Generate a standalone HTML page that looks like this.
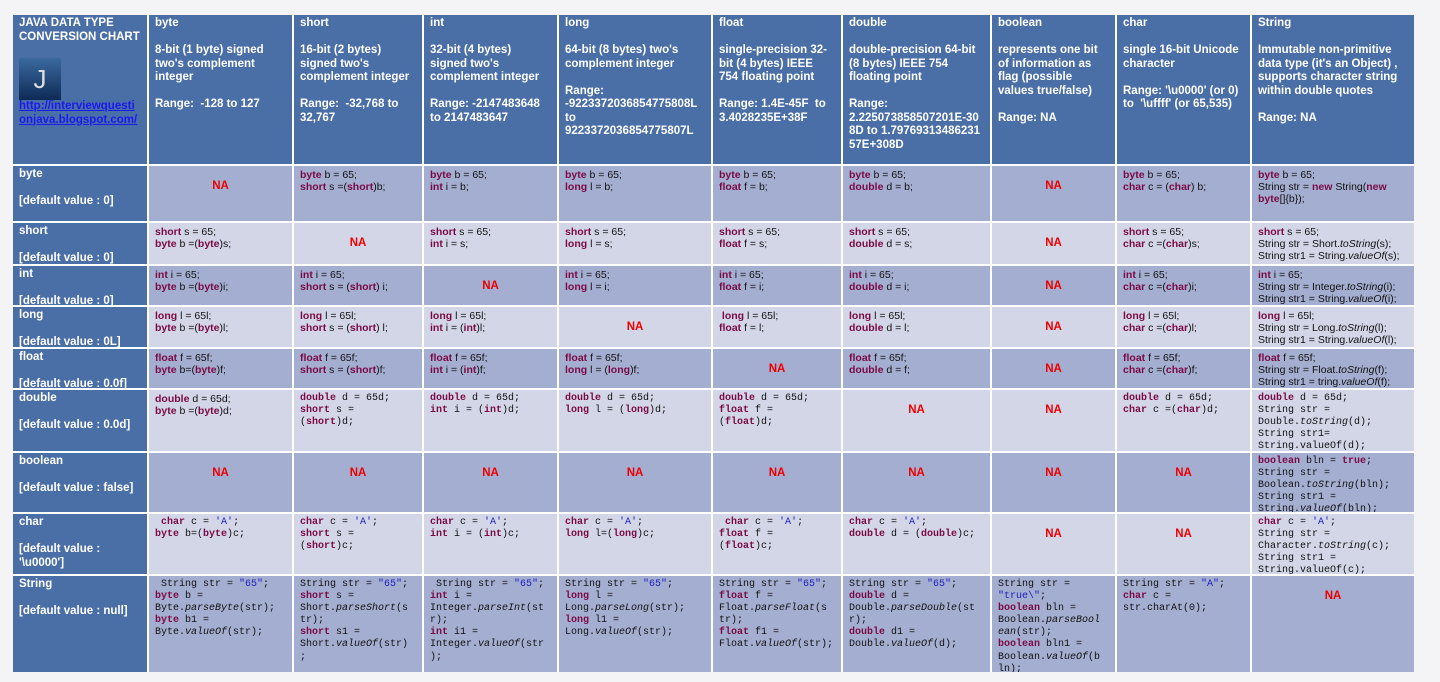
<!DOCTYPE html><html><head><meta charset="utf-8"><style>
body{margin:0;width:1440px;height:682px;background:#f4f4f6;position:relative;overflow:hidden;font-family:"Liberation Sans",Arial,sans-serif}
.c{position:absolute;box-sizing:border-box;padding:3px 6px;font-size:10.5px;line-height:12px;color:#111;overflow:hidden}
.h{background:#4a6ea6;color:#fff;font-weight:bold;font-size:11.5px;line-height:13.5px;padding-top:2px}
.d{background:#a4aed0}.l{background:#d2d6e7}
.k{color:#7a0a45;font-weight:bold}
.na{color:#e00;font-weight:bold;font-size:11.5px;text-align:center;padding-top:14px}
.m{font-family:"Liberation Mono","Courier New",monospace;font-size:10px;line-height:12.1px}
.s{color:#2020c0}
a{color:#1a1aee;text-decoration:underline;word-break:break-all;display:block}
</style></head><body>
<div style="position:absolute;left:13px;top:15px;width:1401px;height:657px;background:#fff"></div>
<div class="c h" style="left:13px;top:15px;width:134px;height:149px">JAVA DATA TYPE CONVERSION CHART<div style="width:42px;height:42px;margin:14px 0 0 0;background:linear-gradient(#3b6aa0,#0e2a55);color:#ddd;font-size:26px;font-weight:normal;text-align:center;line-height:42px">J</div><a>http://interviewquestionjava.blogspot.com/</a></div>
<div class="c h" style="left:149px;top:15px;width:143px;height:149px">byte<br><br>8-bit (1 byte) signed two's complement integer<br><br>Range:&nbsp; -128 to 127</div>
<div class="c h" style="left:294px;top:15px;width:128px;height:149px">short<br><br>16-bit (2 bytes) signed two's complement integer<br><br>Range:&nbsp; -32,768 to 32,767</div>
<div class="c h" style="left:424px;top:15px;width:133px;height:149px">int<br><br>32-bit (4 bytes) signed two's complement integer<br><br>Range: -2147483648 to 2147483647</div>
<div class="c h" style="left:559px;top:15px;width:152px;height:149px">long<br><br>64-bit (8 bytes) two's complement integer<br><br>Range:<br>-9223372036854775808L to 9223372036854775807L</div>
<div class="c h" style="left:713px;top:15px;width:128px;height:149px">float<br><br>single-precision 32-bit (4 bytes) IEEE 754 floating point<br><br>Range: 1.4E-45F&nbsp; to 3.4028235E+38F</div>
<div class="c h" style="left:843px;top:15px;width:147px;height:149px">double<br><br>double-precision 64-bit (8 bytes) IEEE 754 floating point<br><br>Range:<br><span style="word-break:break-all">2.225073858507201E-308D to 1.7976931348623157E+308D</span></div>
<div class="c h" style="left:992px;top:15px;width:123px;height:149px">boolean<br><br>represents one bit of information as flag (possible values true/false)<br><br>Range: NA</div>
<div class="c h" style="left:1117px;top:15px;width:133px;height:149px">char<br><br>single 16-bit Unicode character<br><br>Range: '\u0000' (or 0) to&nbsp; '\uffff' (or 65,535)</div>
<div class="c h" style="left:1252px;top:15px;width:162px;height:149px">String<br><br>Immutable non-primitive data type (it's an Object) , supports character string within double quotes<br><br>Range: NA</div>

<div class="c h" style="left:13px;top:166px;width:134px;height:55px">byte<br><br>[default value : 0]</div>
<div class="c h" style="left:13px;top:223px;width:134px;height:41px">short<br><br>[default value : 0]</div>
<div class="c h" style="left:13px;top:266px;width:134px;height:39px">int<br><br>[default value : 0]</div>
<div class="c h" style="left:13px;top:307px;width:134px;height:40px">long<br><br>[default value : 0L]</div>
<div class="c h" style="left:13px;top:349px;width:134px;height:39px">float<br><br>[default value : 0.0f]</div>
<div class="c h" style="left:13px;top:390px;width:134px;height:61px">double<br><br>[default value : 0.0d]</div>
<div class="c h" style="left:13px;top:453px;width:134px;height:59px">boolean<br><br>[default value : false]</div>
<div class="c h" style="left:13px;top:514px;width:134px;height:60px">char<br><br>[default value : '\u0000']</div>
<div class="c h" style="left:13px;top:576px;width:134px;height:96px">String<br><br>[default value : null]</div>

<div class="c d na" style="left:149px;top:166px;width:143px;height:55px">NA</div>
<div class="c d" style="left:294px;top:166px;width:128px;height:55px"><span class="k">byte</span> b = 65;<br><span class="k">short</span> s =(<span class="k">short</span>)b;</div>
<div class="c d" style="left:424px;top:166px;width:133px;height:55px"><span class="k">byte</span> b = 65;<br><span class="k">int</span> i = b;</div>
<div class="c d" style="left:559px;top:166px;width:152px;height:55px"><span class="k">byte</span> b = 65;<br><span class="k">long</span> l = b;</div>
<div class="c d" style="left:713px;top:166px;width:128px;height:55px"><span class="k">byte</span> b = 65;<br><span class="k">float</span> f = b;</div>
<div class="c d" style="left:843px;top:166px;width:147px;height:55px"><span class="k">byte</span> b = 65;<br><span class="k">double</span> d = b;</div>
<div class="c d na" style="left:992px;top:166px;width:123px;height:55px">NA</div>
<div class="c d" style="left:1117px;top:166px;width:133px;height:55px"><span class="k">byte</span> b = 65;<br><span class="k">char</span> c = (<span class="k">char</span>) b;</div>
<div class="c d" style="left:1252px;top:166px;width:162px;height:55px"><span class="k">byte</span> b = 65;<br>String str = <span class="k">new</span> String(<span class="k">new byte</span>[]{b});</div>

<div class="c l" style="left:149px;top:223px;width:143px;height:41px"><span class="k">short</span> s = 65;<br><span class="k">byte</span> b =(<span class="k">byte</span>)s;</div>
<div class="c l na" style="left:294px;top:223px;width:128px;height:41px">NA</div>
<div class="c l" style="left:424px;top:223px;width:133px;height:41px"><span class="k">short</span> s = 65;<br><span class="k">int</span> i = s;</div>
<div class="c l" style="left:559px;top:223px;width:152px;height:41px"><span class="k">short</span> s = 65;<br><span class="k">long</span> l = s;</div>
<div class="c l" style="left:713px;top:223px;width:128px;height:41px"><span class="k">short</span> s = 65;<br><span class="k">float</span> f = s;</div>
<div class="c l" style="left:843px;top:223px;width:147px;height:41px"><span class="k">short</span> s = 65;<br><span class="k">double</span> d = s;</div>
<div class="c l na" style="left:992px;top:223px;width:123px;height:41px">NA</div>
<div class="c l" style="left:1117px;top:223px;width:133px;height:41px"><span class="k">short</span> s = 65;<br><span class="k">char</span> c =(<span class="k">char</span>)s;</div>
<div class="c l" style="left:1252px;top:223px;width:162px;height:41px"><span class="k">short</span> s = 65;<br>String str = Short.<i>toString</i>(s);<br>String str1 = String.<i>valueOf</i>(s);</div>

<div class="c d" style="left:149px;top:266px;width:143px;height:39px"><span class="k">int</span> i = 65;<br><span class="k">byte</span> b =(<span class="k">byte</span>)i;</div>
<div class="c d" style="left:294px;top:266px;width:128px;height:39px"><span class="k">int</span> i = 65;<br><span class="k">short</span> s = (<span class="k">short</span>) i;</div>
<div class="c d na" style="left:424px;top:266px;width:133px;height:39px">NA</div>
<div class="c d" style="left:559px;top:266px;width:152px;height:39px"><span class="k">int</span> i = 65;<br><span class="k">long</span> l = i;</div>
<div class="c d" style="left:713px;top:266px;width:128px;height:39px"><span class="k">int</span> i = 65;<br><span class="k">float</span> f = i;</div>
<div class="c d" style="left:843px;top:266px;width:147px;height:39px"><span class="k">int</span> i = 65;<br><span class="k">double</span> d = i;</div>
<div class="c d na" style="left:992px;top:266px;width:123px;height:39px">NA</div>
<div class="c d" style="left:1117px;top:266px;width:133px;height:39px"><span class="k">int</span> i = 65;<br><span class="k">char</span> c =(<span class="k">char</span>)i;</div>
<div class="c d" style="left:1252px;top:266px;width:162px;height:39px"><span class="k">int</span> i = 65;<br>String str = Integer.<i>toString</i>(i);<br>String str1 = String.<i>valueOf</i>(i);</div>

<div class="c l" style="left:149px;top:307px;width:143px;height:40px"><span class="k">long</span> l = 65l;<br><span class="k">byte</span> b =(<span class="k">byte</span>)l;</div>
<div class="c l" style="left:294px;top:307px;width:128px;height:40px"><span class="k">long</span> l = 65l;<br><span class="k">short</span> s = (<span class="k">short</span>) l;</div>
<div class="c l" style="left:424px;top:307px;width:133px;height:40px"><span class="k">long</span> l = 65l;<br><span class="k">int</span> i = (<span class="k">int</span>)l;</div>
<div class="c l na" style="left:559px;top:307px;width:152px;height:40px">NA</div>
<div class="c l" style="left:713px;top:307px;width:128px;height:40px">&nbsp;<span class="k">long</span> l = 65l;<br><span class="k">float</span> f = l;</div>
<div class="c l" style="left:843px;top:307px;width:147px;height:40px"><span class="k">long</span> l = 65l;<br><span class="k">double</span> d = l;</div>
<div class="c l na" style="left:992px;top:307px;width:123px;height:40px">NA</div>
<div class="c l" style="left:1117px;top:307px;width:133px;height:40px"><span class="k">long</span> l = 65l;<br><span class="k">char</span> c =(<span class="k">char</span>)l;</div>
<div class="c l" style="left:1252px;top:307px;width:162px;height:40px"><span class="k">long</span> l = 65l;<br>String str = Long.<i>toString</i>(l);<br>String str1 = String.<i>valueOf</i>(l);</div>

<div class="c d" style="left:149px;top:349px;width:143px;height:39px"><span class="k">float</span> f = 65f;<br><span class="k">byte</span> b=(<span class="k">byte</span>)f;</div>
<div class="c d" style="left:294px;top:349px;width:128px;height:39px"><span class="k">float</span> f = 65f;<br><span class="k">short</span> s = (<span class="k">short</span>)f;</div>
<div class="c d" style="left:424px;top:349px;width:133px;height:39px"><span class="k">float</span> f = 65f;<br><span class="k">int</span> i = (<span class="k">int</span>)f;</div>
<div class="c d" style="left:559px;top:349px;width:152px;height:39px"><span class="k">float</span> f = 65f;<br><span class="k">long</span> l = (<span class="k">long</span>)f;</div>
<div class="c d na" style="left:713px;top:349px;width:128px;height:39px">NA</div>
<div class="c d" style="left:843px;top:349px;width:147px;height:39px"><span class="k">float</span> f = 65f;<br><span class="k">double</span> d = f;</div>
<div class="c d na" style="left:992px;top:349px;width:123px;height:39px">NA</div>
<div class="c d" style="left:1117px;top:349px;width:133px;height:39px"><span class="k">float</span> f = 65f;<br><span class="k">char</span> c =(<span class="k">char</span>)f;</div>
<div class="c d" style="left:1252px;top:349px;width:162px;height:39px"><span class="k">float</span> f = 65f;<br>String str = Float.<i>toString</i>(f);<br>String str1 = tring.<i>valueOf</i>(f);</div>

<div class="c l" style="left:149px;top:390px;width:143px;height:61px"><span class="k">double</span> d = 65d;<br><span class="k">byte</span> b =(<span class="k">byte</span>)d;</div>
<div class="c l m" style="left:294px;top:390px;width:128px;height:61px"><span class="k">double</span> d = 65d;<br><span class="k">short</span> s =<br>(<span class="k">short</span>)d;</div>
<div class="c l m" style="left:424px;top:390px;width:133px;height:61px"><span class="k">double</span> d = 65d;<br><span class="k">int</span> i = (<span class="k">int</span>)d;</div>
<div class="c l m" style="left:559px;top:390px;width:152px;height:61px"><span class="k">double</span> d = 65d;<br><span class="k">long</span> l = (<span class="k">long</span>)d;</div>
<div class="c l m" style="left:713px;top:390px;width:128px;height:61px"><span class="k">double</span> d = 65d;<br><span class="k">float</span> f =<br>(<span class="k">float</span>)d;</div>
<div class="c l na" style="left:843px;top:390px;width:147px;height:61px">NA</div>
<div class="c l na" style="left:992px;top:390px;width:123px;height:61px">NA</div>
<div class="c l m" style="left:1117px;top:390px;width:133px;height:61px"><span class="k">double</span> d = 65d;<br><span class="k">char</span> c =(<span class="k">char</span>)d;</div>
<div class="c l m" style="left:1252px;top:390px;width:162px;height:61px"><span class="k">double</span> d = 65d;<br>String str =<br>Double.<i>toString</i>(d);<br>String str1=<br>String.valueOf(d);</div>

<div class="c d na" style="left:149px;top:453px;width:143px;height:59px">NA</div>
<div class="c d na" style="left:294px;top:453px;width:128px;height:59px">NA</div>
<div class="c d na" style="left:424px;top:453px;width:133px;height:59px">NA</div>
<div class="c d na" style="left:559px;top:453px;width:152px;height:59px">NA</div>
<div class="c d na" style="left:713px;top:453px;width:128px;height:59px">NA</div>
<div class="c d na" style="left:843px;top:453px;width:147px;height:59px">NA</div>
<div class="c d na" style="left:992px;top:453px;width:123px;height:59px">NA</div>
<div class="c d na" style="left:1117px;top:453px;width:133px;height:59px">NA</div>
<div class="c d m" style="left:1252px;top:453px;width:162px;height:59px"><span class="k">boolean</span> bln = <span class="k">true</span>;<br>String str =<br>Boolean.<i>toString</i>(bln);<br>String str1 =<br>String.<i>valueOf</i>(bln);</div>

<div class="c l m" style="left:149px;top:514px;width:143px;height:60px">&nbsp;<span class="k">char</span> c = <span class="s">'A'</span>;<br><span class="k">byte</span> b=(<span class="k">byte</span>)c;</div>
<div class="c l m" style="left:294px;top:514px;width:128px;height:60px"><span class="k">char</span> c = <span class="s">'A'</span>;<br><span class="k">short</span> s =<br>(<span class="k">short</span>)c;</div>
<div class="c l m" style="left:424px;top:514px;width:133px;height:60px"><span class="k">char</span> c = <span class="s">'A'</span>;<br><span class="k">int</span> i = (<span class="k">int</span>)c;</div>
<div class="c l m" style="left:559px;top:514px;width:152px;height:60px"><span class="k">char</span> c = <span class="s">'A'</span>;<br><span class="k">long</span> l=(<span class="k">long</span>)c;</div>
<div class="c l m" style="left:713px;top:514px;width:128px;height:60px">&nbsp;<span class="k">char</span> c = <span class="s">'A'</span>;<br><span class="k">float</span> f =<br>(<span class="k">float</span>)c;</div>
<div class="c l m" style="left:843px;top:514px;width:147px;height:60px"><span class="k">char</span> c = <span class="s">'A'</span>;<br><span class="k">double</span> d = (<span class="k">double</span>)c;</div>
<div class="c l na" style="left:992px;top:514px;width:123px;height:60px">NA</div>
<div class="c l na" style="left:1117px;top:514px;width:133px;height:60px">NA</div>
<div class="c l m" style="left:1252px;top:514px;width:162px;height:60px"><span class="k">char</span> c = <span class="s">'A'</span>;<br>String str =<br>Character.<i>toString</i>(c);<br>String str1 =<br>String.valueOf(c);</div>

<div class="c d m" style="left:149px;top:576px;width:143px;height:96px">&nbsp;String str = <span class="s">"65"</span>;<br><span class="k">byte</span> b =<br>Byte.<i>parseByte</i>(str);<br><span class="k">byte</span> b1 =<br>Byte.<i>valueOf</i>(str);</div>
<div class="c d m" style="left:294px;top:576px;width:128px;height:96px">String str = <span class="s">"65"</span>;<br><span class="k">short</span> s =<br>Short.<i>parseShort</i>(s<br>tr);<br><span class="k">short</span> s1 =<br>Short.<i>valueOf</i>(str)<br>;</div>
<div class="c d m" style="left:424px;top:576px;width:133px;height:96px">&nbsp;String str = <span class="s">"65"</span>;<br><span class="k">int</span> i =<br>Integer.<i>parseInt</i>(st<br>r);<br><span class="k">int</span> i1 =<br>Integer.<i>valueOf</i>(str<br>);</div>
<div class="c d m" style="left:559px;top:576px;width:152px;height:96px">String str = <span class="s">"65"</span>;<br><span class="k">long</span> l =<br>Long.<i>parseLong</i>(str);<br><span class="k">long</span> l1 =<br>Long.<i>valueOf</i>(str);</div>
<div class="c d m" style="left:713px;top:576px;width:128px;height:96px">String str = <span class="s">"65"</span>;<br><span class="k">float</span> f =<br>Float.<i>parseFloat</i>(s<br>tr);<br><span class="k">float</span> f1 =<br>Float.<i>valueOf</i>(str);</div>
<div class="c d m" style="left:843px;top:576px;width:147px;height:96px">String str = <span class="s">"65"</span>;<br><span class="k">double</span> d =<br>Double.<i>parseDouble</i>(st<br>r);<br><span class="k">double</span> d1 =<br>Double.<i>valueOf</i>(d);</div>
<div class="c d m" style="left:992px;top:576px;width:123px;height:96px">String str =<br><span class="s">"true\"</span>;<br><span class="k">boolean</span> bln =<br>Boolean.<i>parseBool</i><br><i>ean</i>(str);<br><span class="k">boolean</span> bln1 =<br>Boolean.<i>valueOf</i>(b<br>ln);</div>
<div class="c d m" style="left:1117px;top:576px;width:133px;height:96px">String str = <span class="s">"A"</span>;<br><span class="k">char</span> c =<br>str.charAt(0);</div>
<div class="c d na" style="left:1252px;top:576px;width:162px;height:96px">NA</div>
</body></html>
